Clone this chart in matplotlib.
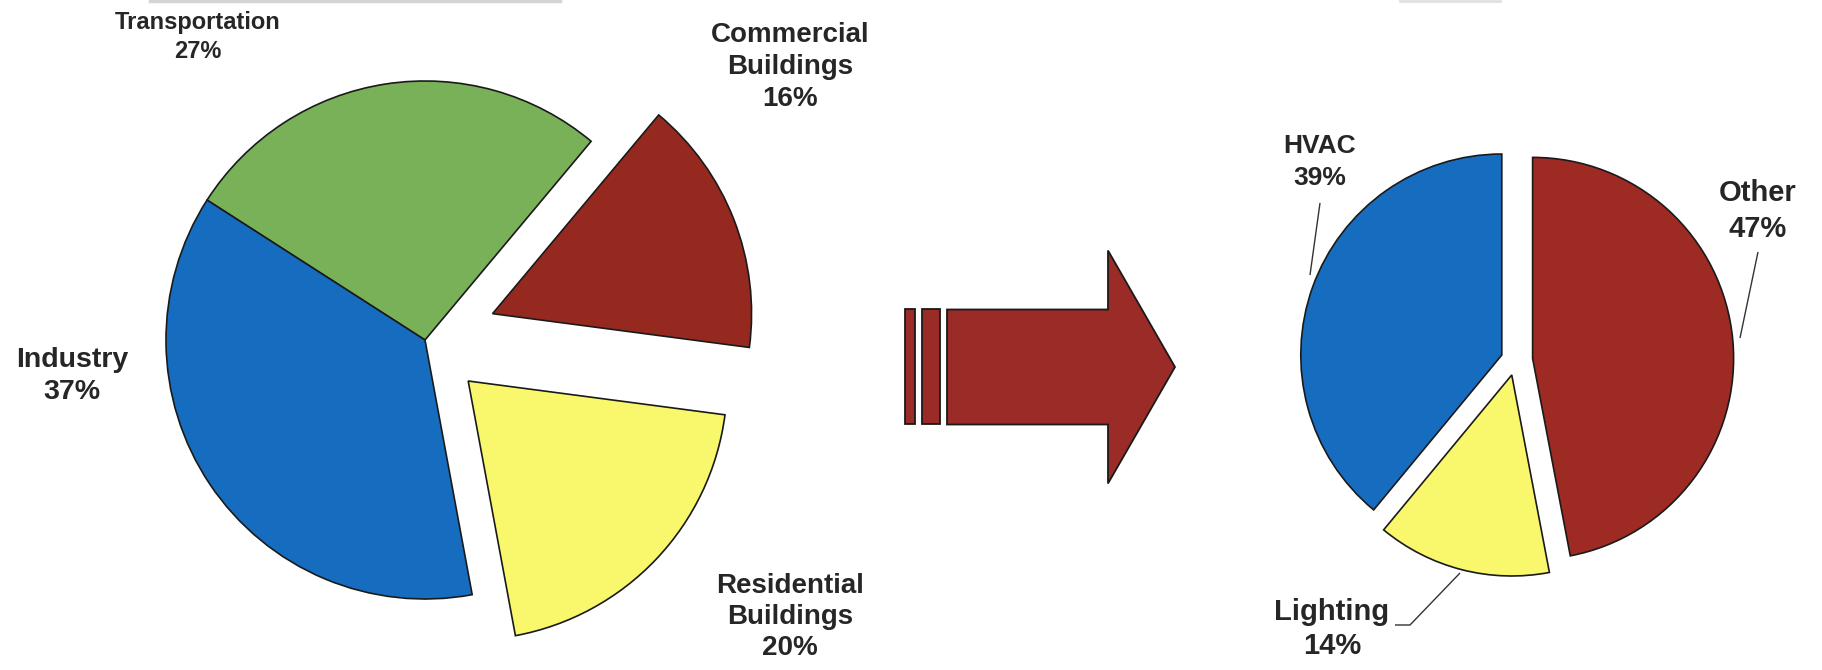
import matplotlib
matplotlib.use("Agg")
import matplotlib.pyplot as plt
from matplotlib.patches import Rectangle, FancyArrow

plt.rcParams["font.family"] = ["Liberation Sans", "DejaVu Sans"]

# energy use by sector (left) and breakdown of commercial buildings (right)
sectors = ["Commercial\nBuildings", "Transportation", "Industry", "Residential\nBuildings"]
sector_share = [16, 27, 37, 20]
sector_colors = ["#96291f", "#78b157", "#166dbf", "#f9f86c"]
sector_explode = [0.28, 0.0, 0.0, 0.23]

uses = ["HVAC", "Lighting", "Other"]
use_share = [39, 14, 47]
use_colors = ["#166dbf", "#f9f86c", "#9e2a24"]
use_explode = [0.073, 0.077, 0.085]

W, H = 1822, 670
TEXT = "#262626"
EDGE = "#1a1a1a"

fig = plt.figure(figsize=(W / 100, H / 100), dpi=100)
fig.patch.set_facecolor("white")

# background axes in pixel units for arrow, labels and leader lines
canvas = fig.add_axes([0, 0, 1, 1])
canvas.set_xlim(0, W)
canvas.set_ylim(0, H)
canvas.axis("off")


def pie_axes(cx, cy, r, pad=1.4):
    half = pad * r
    ax = fig.add_axes([(cx - half) / W, (cy - half) / H, 2 * half / W, 2 * half / H])
    ax.set_xlim(-pad, pad)
    ax.set_ylim(-pad, pad)
    ax.axis("off")
    return ax


def draw_pie(ax, shares, colors, explode, start):
    ax.pie(shares, colors=colors, explode=explode, startangle=start,
           counterclock=True, radius=1.0, frame=True,
           wedgeprops=dict(edgecolor=EDGE, linewidth=1.2))
    ax.set_xlim(-1.4, 1.4)
    ax.set_ylim(-1.4, 1.4)
    ax.set_aspect("equal")
    ax.axis("off")


left = pie_axes(425, 330, 259)
draw_pie(left, sector_share, sector_colors, sector_explode, -7.5)

right = pie_axes(1515.6, 310, 201)
draw_pie(right, use_share, use_colors, use_explode, 90)

# sector labels: (x, y, size, linespacing)
sector_label_pos = [(790, 603, 20, 1.3), (198, 633, 17, 1.3),
                    (72, 294, 20.5, 1.27), (790, 53, 20, 1.24)]
for name, share, (x, y, fs, ls) in zip(sectors, sector_share, sector_label_pos):
    canvas.text(x, y, f"{name}\n{share}%", ha="center", va="center",
                fontsize=fs, fontweight="bold", color=TEXT, linespacing=ls)

use_label_pos = [(1320, 508, 19, 1.42), (1332, 41, 21, 1.24), (1758, 459, 21, 1.4)]
for name, share, (x, y, fs, ls) in zip(uses, use_share, use_label_pos):
    canvas.text(x, y, f"{name}\n{share}%", ha="center", va="center",
                fontsize=fs, fontweight="bold", color=TEXT, linespacing=ls)

# leader lines on the right pie
leaders = [
    ([1320, 1310], [467, 395]),
    ([1395, 1410, 1460], [45, 45, 97]),
    ([1758, 1740], [418, 332]),
]
for xs, ys in leaders:
    canvas.plot(xs, ys, color="#333333", lw=1.0, solid_capstyle="butt")

# the big arrow with two trailing bars
arrow_red = "#9a2b26"
for x0, x1 in [(905, 915), (922, 940)]:
    canvas.add_patch(Rectangle((x0, 246), x1 - x0, 115, facecolor=arrow_red,
                               edgecolor=EDGE, linewidth=1.3))
canvas.add_patch(FancyArrow(947, 303, 228, 0, width=115, head_width=233,
                            head_length=67, length_includes_head=True,
                            facecolor=arrow_red, edgecolor=EDGE, linewidth=1.3))

# faint remains of the heading rule along the top edge
canvas.plot([150, 560], [669, 669], color="#d4d4d4", lw=2.5)
canvas.plot([1400, 1500], [669, 669], color="#e0e0e0", lw=2.0)

fig.savefig("out.png", dpi=100, facecolor="white")
